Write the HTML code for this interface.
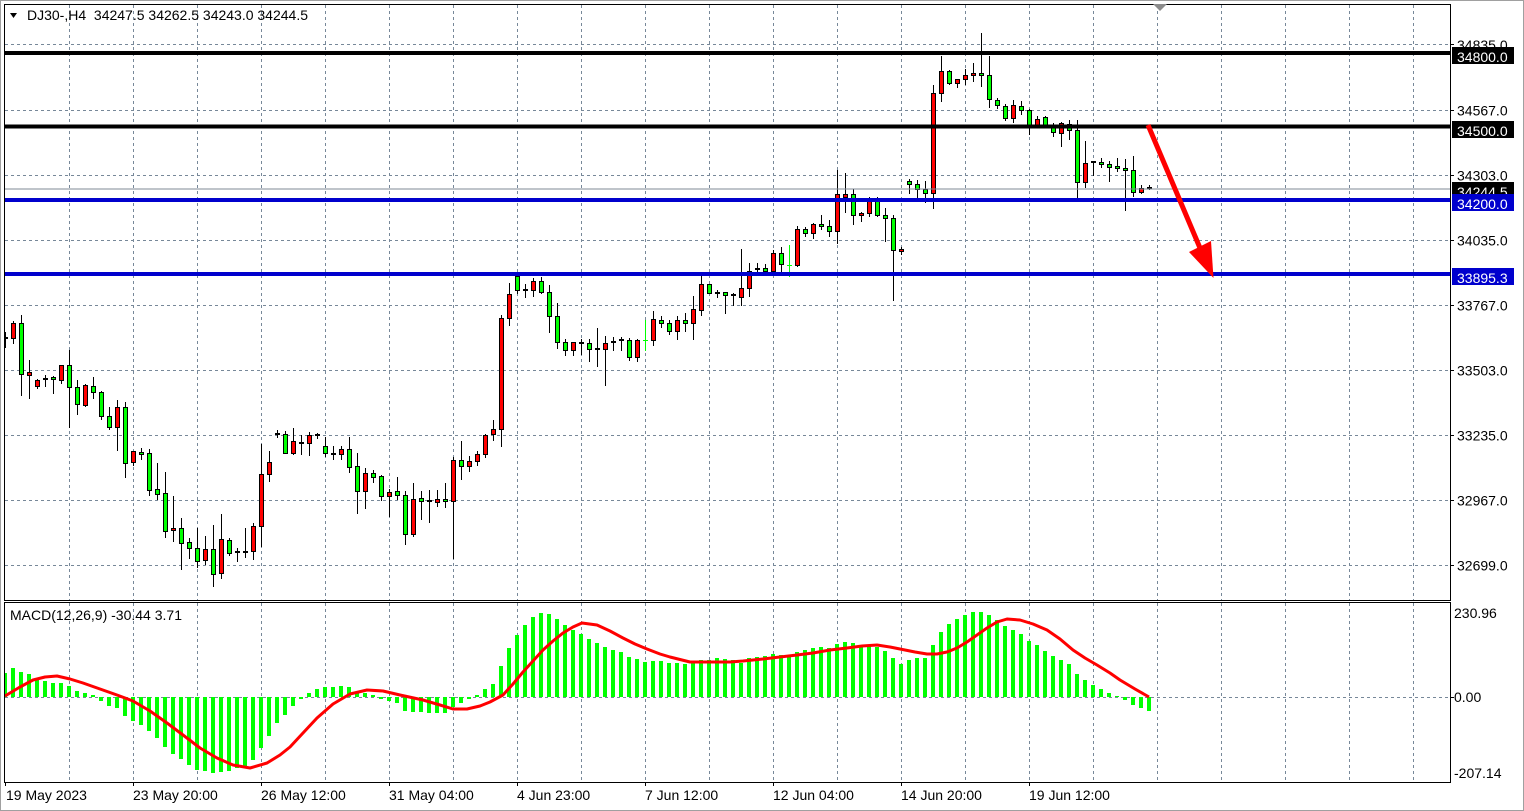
<!DOCTYPE html>
<html><head><meta charset="utf-8"><style>
html,body{margin:0;padding:0;background:#fff;}
svg{display:block;font-family:"Liberation Sans",Arial,sans-serif;}
</style></head><body>
<svg width="1524" height="811" viewBox="0 0 1524 811" xmlns="http://www.w3.org/2000/svg">
<defs>
<clipPath id="cm"><rect x="5" y="5" width="1445" height="595"/></clipPath>
<clipPath id="cd"><rect x="5" y="603" width="1445" height="179"/></clipPath>
</defs>
<rect x="0" y="0" width="1524" height="811" fill="#fff"/>
<rect x="0.5" y="0.5" width="1523" height="810" fill="none" stroke="#a0a0a0"/>

<!-- grid main -->
<g stroke="#778899" stroke-width="1" stroke-dasharray="3,3" fill="none">
<path d="M69.5 5V600M133.5 5V600M197.5 5V600M261.5 5V600M325.5 5V600M389.5 5V600M453.5 5V600M517.5 5V600M581.5 5V600M645.5 5V600M709.5 5V600M773.5 5V600M837.5 5V600M901.5 5V600M965.5 5V600M1029.5 5V600M1093.5 5V600M1157.5 5V600M1221.5 5V600M1285.5 5V600M1349.5 5V600M1413.5 5V600"/>
<path d="M5 44.5H1450M5 110.5H1450M5 175.5H1450M5 240.5H1450M5 305.5H1450M5 370.5H1450M5 435.5H1450M5 500.5H1450M5 565.5H1450"/>
<path d="M69.5 603V782M133.5 603V782M197.5 603V782M261.5 603V782M325.5 603V782M389.5 603V782M453.5 603V782M517.5 603V782M581.5 603V782M645.5 603V782M709.5 603V782M773.5 603V782M837.5 603V782M901.5 603V782M965.5 603V782M1029.5 603V782M1093.5 603V782M1157.5 603V782M1221.5 603V782M1285.5 603V782M1349.5 603V782M1413.5 603V782"/>
<path d="M5 697.5H1450"/>
</g>

<!-- candles -->
<g clip-path="url(#cm)">
<path stroke="#000" stroke-width="1" fill="none" d="M5.5 332V348M13.5 321V344M21.5 315V396M29.5 360V399M37.5 379V389M45.5 375V387M53.5 376V394M61.5 365V384M69.5 350V428M77.5 380V415M85.5 384V407M93.5 377V399M101.5 391V420M109.5 407V430M117.5 400V451M125.5 402V478M133.5 451V466M141.5 448V460M149.5 449V496M157.5 463V500M165.5 472V538M173.5 496V542M181.5 518V570M189.5 538V559M197.5 528V568M205.5 536V565M213.5 525V587M221.5 514V579M229.5 538V556M237.5 548V562M245.5 528V558M253.5 523V560M261.5 444V547M269.5 451V482M277.5 430V438M285.5 431V454M293.5 428V455M301.5 435V455M309.5 432V456M317.5 433V439M325.5 437V457M333.5 446V460M341.5 446V460M349.5 437V473M357.5 453V514M365.5 468V509M373.5 470V483M381.5 475V501M389.5 489V517M397.5 477V500M405.5 491V545M413.5 483V537M421.5 491V520M429.5 490V523M437.5 490V507M445.5 483V508M453.5 457V559M461.5 441V480M469.5 456V472M477.5 451V466M485.5 434V458M493.5 420V441M501.5 315V447M509.5 283V326M517.5 275V294M525.5 284V298M533.5 278V297M541.5 277V294M549.5 285V333M557.5 303V349M565.5 339V356M573.5 342V356M581.5 339V355M589.5 339V362M597.5 328V367M605.5 336V386M613.5 337V351M621.5 337V351M629.5 338V361M637.5 339V362M653.5 311V346M661.5 316V328M669.5 320V335M677.5 316V340M685.5 313V332M693.5 296V340M701.5 276V316M709.5 284V294M717.5 290V298M725.5 292V314M733.5 293V306M741.5 249V306M749.5 263V297M757.5 263V272M765.5 264V273M773.5 250V273M781.5 247V273M797.5 226V267M805.5 227V237M813.5 223V239M821.5 215V230M829.5 220V237M837.5 170V244M845.5 173V213M853.5 189V225M861.5 212V222M869.5 197V217M877.5 197V217M885.5 208V242M893.5 215V301M901.5 247V255M909.5 179V194M917.5 180V199M925.5 181V203M933.5 85V209M941.5 56V102M949.5 70V85M957.5 79V88M965.5 69V85M973.5 63V82M981.5 33V87M989.5 56V108M997.5 98V109M1005.5 104V121M1013.5 100V123M1021.5 101V115M1029.5 109V135M1037.5 116V128M1045.5 116V127M1053.5 123V137M1061.5 122V147M1069.5 120V140M1077.5 120V199M1085.5 141V188M1093.5 161V176M1101.5 158V168M1109.5 161V182M1117.5 158V172M1125.5 159V211M1133.5 156V197M1141.5 185V194M1149.5 185V190"/>
<g fill="#ff0000" stroke="#000" stroke-width="1">
<rect x="11.5" y="323.5" width="4" height="15"/>
<rect x="27.5" y="372.5" width="4" height="3"/>
<rect x="35.5" y="380.5" width="4" height="6"/>
<rect x="59.5" y="365.5" width="4" height="15"/>
<rect x="83.5" y="385.5" width="4" height="20"/>
<rect x="115.5" y="407.5" width="4" height="20"/>
<rect x="131.5" y="451.5" width="4" height="11"/>
<rect x="171.5" y="528.5" width="4" height="2"/>
<rect x="203.5" y="549.5" width="4" height="11"/>
<rect x="219.5" y="539.5" width="4" height="34"/>
<rect x="251.5" y="526.5" width="4" height="25"/>
<rect x="259.5" y="474.5" width="4" height="52"/>
<rect x="267.5" y="462.5" width="4" height="12"/>
<rect x="291.5" y="441.5" width="4" height="12"/>
<rect x="307.5" y="435.5" width="4" height="8"/>
<rect x="339.5" y="449.5" width="4" height="5"/>
<rect x="363.5" y="473.5" width="4" height="18"/>
<rect x="387.5" y="492.5" width="4" height="4"/>
<rect x="411.5" y="499.5" width="4" height="35"/>
<rect x="435.5" y="499.5" width="4" height="3"/>
<rect x="451.5" y="460.5" width="4" height="41"/>
<rect x="467.5" y="461.5" width="4" height="5"/>
<rect x="475.5" y="454.5" width="4" height="7"/>
<rect x="483.5" y="435.5" width="4" height="19"/>
<rect x="491.5" y="429.5" width="4" height="5"/>
<rect x="499.5" y="318.5" width="4" height="111"/>
<rect x="507.5" y="294.5" width="4" height="24"/>
<rect x="531.5" y="281.5" width="4" height="9"/>
<rect x="571.5" y="342.5" width="4" height="8"/>
<rect x="603.5" y="343.5" width="4" height="6"/>
<rect x="635.5" y="340.5" width="4" height="17"/>
<rect x="651.5" y="319.5" width="4" height="21"/>
<rect x="675.5" y="320.5" width="4" height="11"/>
<rect x="691.5" y="309.5" width="4" height="14"/>
<rect x="699.5" y="284.5" width="4" height="26"/>
<rect x="739.5" y="288.5" width="4" height="9"/>
<rect x="747.5" y="271.5" width="4" height="17"/>
<rect x="771.5" y="253.5" width="4" height="18"/>
<rect x="795.5" y="229.5" width="4" height="36"/>
<rect x="811.5" y="224.5" width="4" height="9"/>
<rect x="835.5" y="194.5" width="4" height="37"/>
<rect x="843.5" y="194.5" width="4" height="3"/>
<rect x="859.5" y="213.5" width="4" height="2"/>
<rect x="867.5" y="199.5" width="4" height="14"/>
<rect x="899.5" y="249.5" width="4" height="2"/>
<rect x="931.5" y="93.5" width="4" height="100"/>
<rect x="939.5" y="71.5" width="4" height="22"/>
<rect x="955.5" y="79.5" width="4" height="4"/>
<rect x="963.5" y="75.5" width="4" height="4"/>
<rect x="971.5" y="73.5" width="4" height="2"/>
<rect x="1011.5" y="105.5" width="4" height="13"/>
<rect x="1035.5" y="119.5" width="4" height="6"/>
<rect x="1059.5" y="123.5" width="4" height="10"/>
<rect x="1083.5" y="163.5" width="4" height="19"/>
<rect x="1139.5" y="188.5" width="4" height="4"/>
</g>
<g fill="#00ff00" stroke="#000" stroke-width="1">
<rect x="19.5" y="323.5" width="4" height="51"/>
<rect x="51.5" y="377.5" width="4" height="2"/>
<rect x="67.5" y="365.5" width="4" height="22"/>
<rect x="75.5" y="387.5" width="4" height="17"/>
<rect x="91.5" y="386.5" width="4" height="6"/>
<rect x="99.5" y="392.5" width="4" height="24"/>
<rect x="107.5" y="416.5" width="4" height="11"/>
<rect x="123.5" y="407.5" width="4" height="56"/>
<rect x="139.5" y="452.5" width="4" height="2"/>
<rect x="147.5" y="453.5" width="4" height="37"/>
<rect x="155.5" y="489.5" width="4" height="5"/>
<rect x="163.5" y="493.5" width="4" height="38"/>
<rect x="179.5" y="528.5" width="4" height="15"/>
<rect x="187.5" y="542.5" width="4" height="6"/>
<rect x="195.5" y="548.5" width="4" height="13"/>
<rect x="211.5" y="549.5" width="4" height="25"/>
<rect x="227.5" y="540.5" width="4" height="13"/>
<rect x="283.5" y="434.5" width="4" height="19"/>
<rect x="323.5" y="446.5" width="4" height="7"/>
<rect x="347.5" y="449.5" width="4" height="18"/>
<rect x="355.5" y="466.5" width="4" height="25"/>
<rect x="371.5" y="473.5" width="4" height="4"/>
<rect x="379.5" y="476.5" width="4" height="20"/>
<rect x="395.5" y="491.5" width="4" height="4"/>
<rect x="403.5" y="495.5" width="4" height="39"/>
<rect x="419.5" y="498.5" width="4" height="3"/>
<rect x="443.5" y="499.5" width="4" height="2"/>
<rect x="459.5" y="460.5" width="4" height="6"/>
<rect x="515.5" y="276.5" width="4" height="14"/>
<rect x="539.5" y="281.5" width="4" height="11"/>
<rect x="547.5" y="292.5" width="4" height="24"/>
<rect x="555.5" y="316.5" width="4" height="26"/>
<rect x="563.5" y="342.5" width="4" height="8"/>
<rect x="587.5" y="343.5" width="4" height="6"/>
<rect x="627.5" y="340.5" width="4" height="17"/>
<rect x="659.5" y="320.5" width="4" height="3"/>
<rect x="667.5" y="323.5" width="4" height="8"/>
<rect x="683.5" y="320.5" width="4" height="3"/>
<rect x="707.5" y="284.5" width="4" height="9"/>
<rect x="723.5" y="292.5" width="4" height="3"/>
<rect x="763.5" y="268.5" width="4" height="3"/>
<rect x="779.5" y="253.5" width="4" height="11"/>
<rect x="803.5" y="229.5" width="4" height="4"/>
<rect x="819.5" y="224.5" width="4" height="2"/>
<rect x="827.5" y="226.5" width="4" height="5"/>
<rect x="851.5" y="194.5" width="4" height="21"/>
<rect x="875.5" y="199.5" width="4" height="16"/>
<rect x="883.5" y="215.5" width="4" height="3"/>
<rect x="891.5" y="218.5" width="4" height="32"/>
<rect x="907.5" y="181.5" width="4" height="3"/>
<rect x="915.5" y="184.5" width="4" height="5"/>
<rect x="923.5" y="189.5" width="4" height="4"/>
<rect x="947.5" y="71.5" width="4" height="12"/>
<rect x="979.5" y="73.5" width="4" height="2"/>
<rect x="987.5" y="75.5" width="4" height="24"/>
<rect x="995.5" y="100.5" width="4" height="5"/>
<rect x="1003.5" y="106.5" width="4" height="12"/>
<rect x="1019.5" y="106.5" width="4" height="4"/>
<rect x="1027.5" y="110.5" width="4" height="15"/>
<rect x="1043.5" y="117.5" width="4" height="8"/>
<rect x="1051.5" y="127.5" width="4" height="5"/>
<rect x="1067.5" y="124.5" width="4" height="6"/>
<rect x="1075.5" y="130.5" width="4" height="52"/>
<rect x="1099.5" y="162.5" width="4" height="2"/>
<rect x="1107.5" y="164.5" width="4" height="3"/>
<rect x="1115.5" y="166.5" width="4" height="2"/>
<rect x="1123.5" y="168.5" width="4" height="2"/>
<rect x="1131.5" y="170.5" width="4" height="22"/>
</g>
<g fill="#000">
<rect x="3" y="337" width="5" height="2"/>
<rect x="43" y="378" width="5" height="2"/>
<rect x="235" y="551" width="5" height="2"/>
<rect x="243" y="551" width="5" height="2"/>
<rect x="275" y="433" width="5" height="2"/>
<rect x="299" y="442" width="5" height="2"/>
<rect x="315" y="434" width="5" height="2"/>
<rect x="331" y="453" width="5" height="2"/>
<rect x="427" y="500" width="5" height="2"/>
<rect x="523" y="289" width="5" height="2"/>
<rect x="579" y="342" width="5" height="2"/>
<rect x="595" y="348" width="5" height="2"/>
<rect x="611" y="341" width="5" height="2"/>
<rect x="619" y="339" width="5" height="2"/>
<rect x="715" y="292" width="5" height="2"/>
<rect x="731" y="294" width="5" height="2"/>
<rect x="755" y="268" width="5" height="2"/>
<rect x="1091" y="161" width="5" height="2"/>
<rect x="1147" y="187" width="5" height="2"/>
</g>
<g fill="#00ff00">
<rect x="645" y="320" width="1" height="31"/>
<rect x="643" y="340" width="5" height="1"/>
<rect x="789" y="245" width="1" height="32"/>
<rect x="787" y="265" width="5" height="1"/>
</g>
</g>

<!-- level lines -->
<rect x="5" y="188.5" width="1445" height="1" fill="#7f8a96"/>
<rect x="5" y="51" width="1445" height="4" fill="#000"/>
<rect x="5" y="124.5" width="1445" height="4" fill="#000"/>
<rect x="5" y="198" width="1445" height="4" fill="#0000cd"/>
<rect x="5" y="272" width="1445" height="4" fill="#0000cd"/>

<!-- arrow -->
<line x1="1148" y1="125" x2="1200" y2="248" stroke="#ff0000" stroke-width="5"/>
<polygon points="1189,252 1211,241 1213.5,278" fill="#ff0000"/>

<!-- frames -->
<rect x="4.5" y="4.5" width="1446" height="596" fill="none" stroke="#000"/>
<rect x="4.5" y="602.5" width="1446" height="180" fill="none" stroke="#000"/>
<polygon points="1153,4 1167,4 1160,11" fill="#8c8c8c"/>

<!-- price axis -->
<g stroke="#000"><path d="M1450 44.5h4M1450 110.5h4M1450 175.5h4M1450 240.5h4M1450 305.5h4M1450 370.5h4M1450 435.5h4M1450 500.5h4M1450 565.5h4M1450 697.5h4"/></g>
<g font-size="14" fill="#000">
<text x="1457" y="50">34835.0</text>
<text x="1457" y="115.5">34567.0</text>
<text x="1457" y="180.5">34303.0</text>
<text x="1457" y="245.5">34035.0</text>
<text x="1457" y="310.5">33767.0</text>
<text x="1457" y="375.5">33503.0</text>
<text x="1457" y="440.5">33235.0</text>
<text x="1457" y="505.5">32967.0</text>
<text x="1457" y="570.5">32699.0</text>
</g>
<rect x="1452" y="47" width="62" height="17" fill="#000"/>
<text x="1457" y="62" font-size="14" fill="#fff">34800.0</text>
<rect x="1452" y="121" width="62" height="17" fill="#000"/>
<text x="1457" y="136" font-size="14" fill="#fff">34500.0</text>
<rect x="1452" y="182" width="62" height="17" fill="#000"/>
<text x="1457" y="197" font-size="14" fill="#fff">34244.5</text>
<rect x="1452" y="194" width="62" height="17" fill="#0000cd"/>
<text x="1457" y="209" font-size="14" fill="#fff">34200.0</text>
<rect x="1452" y="268" width="62" height="17" fill="#0000cd"/>
<text x="1457" y="283" font-size="14" fill="#fff">33895.3</text>

<!-- MACD histogram -->
<g clip-path="url(#cd)" fill="#00ff00">
<rect x="3" y="673" width="4" height="24"/><rect x="11" y="668" width="4" height="29"/><rect x="19" y="672" width="4" height="25"/><rect x="27" y="674" width="4" height="23"/><rect x="35" y="679" width="4" height="18"/><rect x="43" y="681" width="4" height="16"/><rect x="51" y="683" width="4" height="14"/><rect x="59" y="683" width="4" height="14"/><rect x="67" y="686" width="4" height="11"/><rect x="75" y="691" width="4" height="6"/><rect x="83" y="693" width="4" height="4"/><rect x="91" y="695" width="4" height="2"/>
<rect x="99" y="697" width="4" height="4"/><rect x="107" y="697" width="4" height="9"/><rect x="115" y="697" width="4" height="11"/><rect x="123" y="697" width="4" height="19"/><rect x="131" y="697" width="4" height="24"/><rect x="139" y="697" width="4" height="28"/><rect x="147" y="697" width="4" height="34"/><rect x="155" y="697" width="4" height="41"/><rect x="163" y="697" width="4" height="50"/><rect x="171" y="697" width="4" height="57"/><rect x="179" y="697" width="4" height="62"/><rect x="187" y="697" width="4" height="68"/><rect x="195" y="697" width="4" height="73"/><rect x="203" y="697" width="4" height="74"/><rect x="211" y="697" width="4" height="76"/><rect x="219" y="697" width="4" height="75"/><rect x="227" y="697" width="4" height="74"/><rect x="235" y="697" width="4" height="71"/><rect x="243" y="697" width="4" height="69"/><rect x="251" y="697" width="4" height="63"/><rect x="259" y="697" width="4" height="51"/><rect x="267" y="697" width="4" height="39"/><rect x="275" y="697" width="4" height="26"/><rect x="283" y="697" width="4" height="18"/><rect x="291" y="697" width="4" height="9"/><rect x="299" y="697" width="4" height="2"/>
<rect x="307" y="693" width="4" height="4"/><rect x="315" y="689" width="4" height="8"/><rect x="323" y="687" width="4" height="10"/><rect x="331" y="687" width="4" height="10"/><rect x="339" y="686" width="4" height="11"/><rect x="347" y="687" width="4" height="10"/><rect x="355" y="693" width="4" height="4"/><rect x="363" y="693" width="4" height="4"/><rect x="371" y="695" width="4" height="2"/>
<rect x="379" y="697" width="4" height="2"/><rect x="387" y="697" width="4" height="4"/><rect x="395" y="697" width="4" height="6"/><rect x="403" y="697" width="4" height="14"/><rect x="411" y="697" width="4" height="15"/><rect x="419" y="697" width="4" height="15"/><rect x="427" y="697" width="4" height="16"/><rect x="435" y="697" width="4" height="16"/><rect x="443" y="697" width="4" height="16"/><rect x="451" y="697" width="4" height="10"/><rect x="459" y="697" width="4" height="6"/><rect x="467" y="697" width="4" height="2"/>
<rect x="475" y="695" width="4" height="2"/><rect x="483" y="689" width="4" height="8"/><rect x="491" y="684" width="4" height="13"/><rect x="499" y="666" width="4" height="31"/><rect x="507" y="648" width="4" height="49"/><rect x="515" y="635" width="4" height="62"/><rect x="523" y="625" width="4" height="72"/><rect x="531" y="617" width="4" height="80"/><rect x="539" y="613" width="4" height="84"/><rect x="547" y="614" width="4" height="83"/><rect x="555" y="619" width="4" height="78"/><rect x="563" y="625" width="4" height="72"/><rect x="571" y="630" width="4" height="67"/><rect x="579" y="634" width="4" height="63"/><rect x="587" y="639" width="4" height="58"/><rect x="595" y="643" width="4" height="54"/><rect x="603" y="647" width="4" height="50"/><rect x="611" y="650" width="4" height="47"/><rect x="619" y="652" width="4" height="45"/><rect x="627" y="657" width="4" height="40"/><rect x="635" y="659" width="4" height="38"/><rect x="643" y="662" width="4" height="35"/><rect x="651" y="661" width="4" height="36"/><rect x="659" y="661" width="4" height="36"/><rect x="667" y="663" width="4" height="34"/><rect x="675" y="663" width="4" height="34"/><rect x="683" y="664" width="4" height="33"/><rect x="691" y="662" width="4" height="35"/><rect x="699" y="660" width="4" height="37"/><rect x="707" y="660" width="4" height="37"/><rect x="715" y="658" width="4" height="39"/><rect x="723" y="659" width="4" height="38"/><rect x="731" y="660" width="4" height="37"/><rect x="739" y="663" width="4" height="34"/><rect x="747" y="658" width="4" height="39"/><rect x="755" y="657" width="4" height="40"/><rect x="763" y="656" width="4" height="41"/><rect x="771" y="654" width="4" height="43"/><rect x="779" y="655" width="4" height="42"/><rect x="787" y="655" width="4" height="42"/><rect x="795" y="652" width="4" height="45"/><rect x="803" y="650" width="4" height="47"/><rect x="811" y="648" width="4" height="49"/><rect x="819" y="647" width="4" height="50"/><rect x="827" y="648" width="4" height="49"/><rect x="835" y="644" width="4" height="53"/><rect x="843" y="642" width="4" height="55"/><rect x="851" y="643" width="4" height="54"/><rect x="859" y="645" width="4" height="52"/><rect x="867" y="646" width="4" height="51"/><rect x="875" y="647" width="4" height="50"/><rect x="883" y="651" width="4" height="46"/><rect x="891" y="658" width="4" height="39"/><rect x="899" y="664" width="4" height="33"/><rect x="907" y="660" width="4" height="37"/><rect x="915" y="658" width="4" height="39"/><rect x="923" y="658" width="4" height="39"/><rect x="931" y="645" width="4" height="52"/><rect x="939" y="632" width="4" height="65"/><rect x="947" y="624" width="4" height="73"/><rect x="955" y="619" width="4" height="78"/><rect x="963" y="615" width="4" height="82"/><rect x="971" y="612" width="4" height="85"/><rect x="979" y="612" width="4" height="85"/><rect x="987" y="615" width="4" height="82"/><rect x="995" y="620" width="4" height="77"/><rect x="1003" y="626" width="4" height="71"/><rect x="1011" y="630" width="4" height="67"/><rect x="1019" y="634" width="4" height="63"/><rect x="1027" y="641" width="4" height="56"/><rect x="1035" y="645" width="4" height="52"/><rect x="1043" y="651" width="4" height="46"/><rect x="1051" y="656" width="4" height="41"/><rect x="1059" y="660" width="4" height="37"/><rect x="1067" y="664" width="4" height="33"/><rect x="1075" y="674" width="4" height="23"/><rect x="1083" y="680" width="4" height="17"/><rect x="1091" y="685" width="4" height="12"/><rect x="1099" y="689" width="4" height="8"/><rect x="1107" y="693" width="4" height="4"/><rect x="1115" y="696" width="4" height="1"/>
<rect x="1123" y="697" width="4" height="3"/><rect x="1131" y="697" width="4" height="8"/><rect x="1139" y="697" width="4" height="11"/><rect x="1147" y="697" width="4" height="14"/>
</g>
<polyline clip-path="url(#cd)" fill="none" stroke="#ff0000" stroke-width="3" stroke-linejoin="round" points="5,696 20,687 33,680 45,677 57,676 70,679 83,683 100,689 117,695 133,701 150,711 167,723 183,735 200,748 217,758 233,765 250,768 267,763 280,755 290,747 303,733 317,718 333,704 350,694 367,690 383,691 400,695 423,700 440,705 453,709 467,709 480,706 490,702 503,695 513,684 523,672 533,661 543,650 553,641 563,633 573,627 582,623 597,625 610,631 623,638 635,644 647,649 660,654 670,657 690,662 710,662 730,662 743,661 763,659 780,657 797,655 813,653 830,650 847,648 862,646 877,645 890,647 900,649 915,652 927,654 937,654 947,652 957,648 967,642 977,635 987,628 997,622 1007,619 1020,620 1033,624 1047,630 1060,639 1073,650 1085,658 1097,665 1110,673 1120,680 1135,689 1149,697"/>

<g font-size="14" fill="#000">
<text x="1454" y="618">230.96</text>
<text x="1454" y="702">0.00</text>
<text x="1454" y="778">-207.14</text>
</g>

<!-- time axis -->
<g stroke="#000"><path d="M5.5 782V786M133.5 782V786M261.5 782V786M389.5 782V786M517.5 782V786M645.5 782V786M773.5 782V786M901.5 782V786M1029.5 782V786"/></g>
<g font-size="14" fill="#000">
<text x="6" y="800">19 May 2023</text>
<text x="133" y="800">23 May 20:00</text>
<text x="261" y="800">26 May 12:00</text>
<text x="389" y="800">31 May 04:00</text>
<text x="517" y="800">4 Jun 23:00</text>
<text x="645" y="800">7 Jun 12:00</text>
<text x="773" y="800">12 Jun 04:00</text>
<text x="901" y="800">14 Jun 20:00</text>
<text x="1029" y="800">19 Jun 12:00</text>
</g>

<!-- titles -->
<polygon points="10,13 17,13 13.5,18" fill="#000"/>
<text x="27" y="20" font-size="14" fill="#000" xml:space="preserve">DJ30-,H4  34247.5 34262.5 34243.0 34244.5</text>
<text x="10" y="620" font-size="14" fill="#000">MACD(12,26,9) -30.44 3.71</text>
</svg>
</body></html>
